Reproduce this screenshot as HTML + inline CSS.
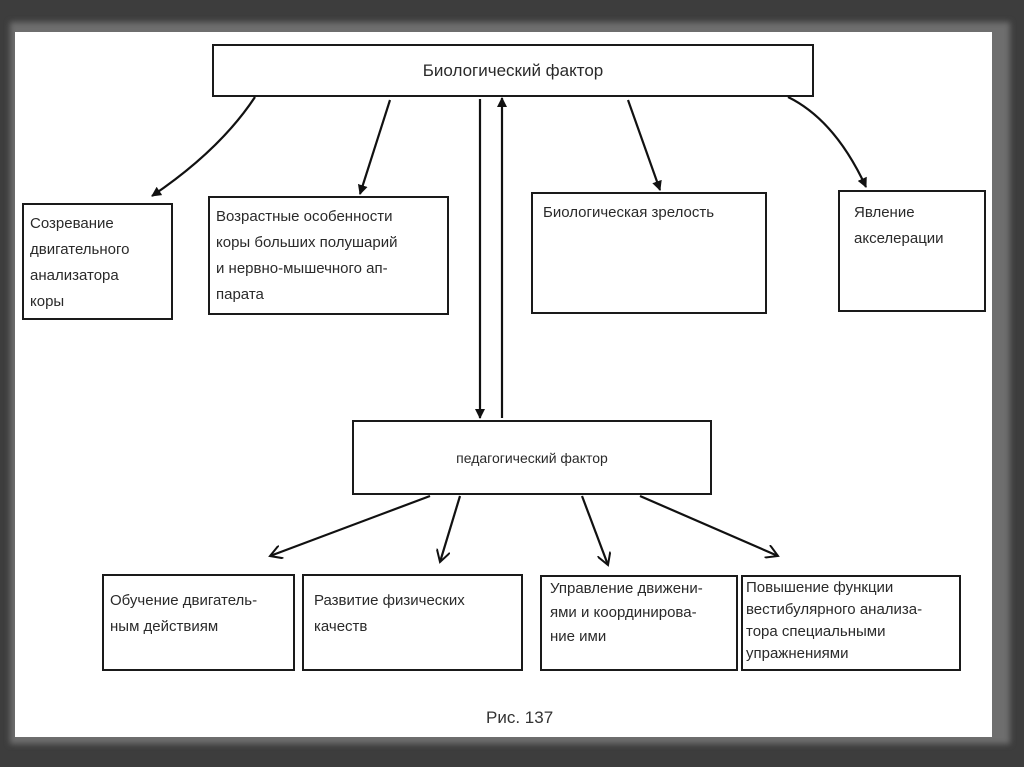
<!DOCTYPE html>
<html><head><meta charset="utf-8"><style>
html,body{margin:0;padding:0}
body{width:1024px;height:767px;background:#3d3d3d;position:relative;overflow:hidden;font-family:"Liberation Sans",sans-serif;color:#2a2a2a}
.torn{position:absolute;left:10px;top:22px;width:1000px;height:722px;background:#6e6e6e;filter:blur(3px)}
.paper{position:absolute;left:15px;top:32px;width:977px;height:705px;background:#fff}
.b{position:absolute;border:2.5px solid #1a1a1a;box-sizing:border-box;background:#fff;font-size:15px;line-height:26px;padding:2px 6px;white-space:nowrap}
svg{position:absolute;left:0;top:0}
</style></head><body>
<div class="torn"></div>
<div class="paper"></div>
<div class="b" style="left:212px;top:44px;width:602px;height:53px;text-align:center;font-size:17px;line-height:46px">Биологический фактор</div>
<div class="b" style="left:22px;top:203px;width:151px;height:117px;padding-top:6px">Созревание<br>двигательного<br>анализатора<br>коры</div>
<div class="b" style="left:208px;top:196px;width:241px;height:119px;padding-top:6px">Возрастные особенности<br>коры больших полушарий<br>и нервно-мышечного ап-<br>парата</div>
<div class="b" style="left:531px;top:192px;width:236px;height:122px;padding:6px 10px">Биологическая зрелость</div>
<div class="b" style="left:838px;top:190px;width:148px;height:122px;padding:8px 14px">Явление<br>акселерации</div>
<div class="b" style="left:352px;top:420px;width:360px;height:75px;text-align:center;line-height:68px;font-size:14px">педагогический фактор</div>
<div class="b" style="left:102px;top:574px;width:193px;height:97px;padding-top:12px">Обучение двигатель-<br>ным действиям</div>
<div class="b" style="left:302px;top:574px;width:221px;height:97px;padding:12px 10px">Развитие физических<br>качеств</div>
<div class="b" style="left:540px;top:575px;width:198px;height:96px;padding:0 8px;line-height:24px">Управление движени-<br>ями и координирова-<br>ние ими</div>
<div class="b" style="left:741px;top:575px;width:220px;height:96px;padding:0 3px;line-height:22px;overflow:hidden">Повышение функции<br>вестибулярного анализа-<br>тора специальными<br>упражнениями</div>
<div style="position:absolute;left:486px;top:708px;font-size:17px;color:#333">Рис. 137</div>
<svg width="1024" height="767"><defs><marker id="a" markerWidth="10" markerHeight="10" refX="9" refY="5" orient="auto" markerUnits="userSpaceOnUse"><path d="M0,0L10,5L0,10z" fill="#111"/></marker>
<marker id="o" markerWidth="14" markerHeight="14" refX="12" refY="7" orient="auto" markerUnits="userSpaceOnUse"><path d="M0,0L12,7L0,14" fill="none" stroke="#111" stroke-width="2"/></marker></defs>
<g stroke="#111" stroke-width="2.2" fill="none">
<path d="M255,97 Q220,150 152,196" marker-end="url(#a)"/>
<path d="M390,100 L360,194" marker-end="url(#a)"/>
<path d="M628,100 L660,190" marker-end="url(#a)"/>
<path d="M788,97 Q835,120 866,187" marker-end="url(#a)"/>
<path d="M480,99 L480,418" marker-end="url(#a)"/>
<path d="M502,418 L502,98" marker-end="url(#a)"/>
<path d="M430,496 L270,556" marker-end="url(#o)"/>
<path d="M460,496 L440,562" marker-end="url(#o)"/>
<path d="M582,496 L608,565" marker-end="url(#o)"/>
<path d="M640,496 L778,556" marker-end="url(#o)"/>
</g></svg>
</body></html>
